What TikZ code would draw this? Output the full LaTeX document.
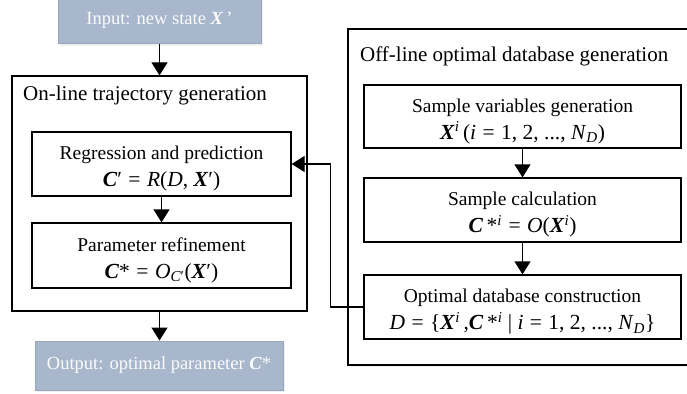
\documentclass[tikz,border=0pt]{standalone}
\usepackage{fontspec}
\setmainfont{Liberation Serif}
\usetikzlibrary{arrows.meta,shadows}
\definecolor{boxblue}{RGB}{168,183,204}
\definecolor{boxblueline}{RGB}{150,166,190}
\newcommand{\bi}[1]{\textbf{\textit{#1}}}
\newcommand{\ii}[1]{\textit{#1}}
\newcommand{\sbs}[1]{\textsubscript{#1}}
\newcommand{\sps}[1]{\textsuperscript{#1}}
\newcommand{\fm}{\fontsize{21.5}{27}\selectfont}
\newcommand{\eq}{\hspace{0.3em}=\hspace{0.3em}}
\begin{document}
\begin{tikzpicture}[x=1pt,y=-1pt,
  every node/.style={font=\fontsize{19.5}{27}\selectfont, inner sep=0pt},
  procbox/.style={draw=black, line width=1.3pt, fill=white},
  proctext/.style={align=center, yshift=-5pt},
  iobox/.style={draw=boxblueline, line width=1pt, fill=boxblue, text=white!95!boxblue,
     font=\fontsize{18.5}{24}\selectfont,
     drop shadow={opacity=0.12, shadow xshift=1.5pt, shadow yshift=-2pt}},
  groupbox/.style={draw=black, line width=1.3pt},
  grouptitle/.style={anchor=base west, font=\fontsize{21}{27}\selectfont},
  arr/.style={line width=1.3pt, -{Triangle[length=13pt,width=16pt]}}
]
\useasboundingbox (0,0) rectangle (687,393);
% input / output
\node[iobox, minimum width=203pt, minimum height=48pt] (input) at (159.5,20) {Input: new state \bi{X}\,’};
\node[iobox, minimum width=248pt, minimum height=49pt] (output) at (159,365.5) {Output: optimal parameter \bi{C}*};
% on-line group
\node[groupbox, minimum width=295pt, minimum height=235pt] (online) at (159.5,193.5) {};
\node[grouptitle] (ontitle) at (23,101) {On-line trajectory generation};
\node[procbox, minimum width=259pt, minimum height=64pt] (reg) at (161.5,164) {};
\node[proctext] (regtxt) at (reg.center)
  {Regression and prediction\\{\fm\bi{C}′\eq\ii{R}(\ii{D}, \bi{X}′)}};
\node[procbox, minimum width=259pt, minimum height=65pt] (par) at (161.5,255.5) {};
\node[proctext] (partxt) at (par.center)
  {Parameter refinement\\{\fm\bi{C}*\eq\ii{O}\sbs{\ii{C}′}(\bi{X}′)}};
% off-line group
\node[groupbox, fill=white, minimum width=345pt, minimum height=336pt,
  drop shadow={opacity=0.12, shadow xshift=1.5pt, shadow yshift=-2pt}] (offline) at (520.5,197) {};
\node[grouptitle] (offtitle) at (360,62) {Off-line optimal database generation};
\node[procbox, minimum width=317pt, minimum height=63pt] (samp) at (522.5,116.5) {};
\node[proctext] (samptxt) at (samp.center)
  {Sample variables generation\\{\fm\bi{X}\sps{\ii{i}}\,(\ii{i}\eq1, 2, ..., \ii{N}\sbs{\ii{D}})}};
\node[procbox, minimum width=317pt, minimum height=64pt] (calc) at (522.5,210) {};
\node[proctext] (calctxt) at (calc.center)
  {Sample calculation\\{\fm\bi{C}\,*\sps{\ii{i}}\eq\ii{O}(\bi{X}\sps{\ii{i}})}};
\node[procbox, minimum width=317pt, minimum height=64pt] (db) at (522.5,307) {};
\node[proctext] (dbtxt) at (db.center)
  {Optimal database construction\\{\fm\ii{D}\eq\{\bi{X}\sps{\ii{i}}\,,\bi{C}\,*\sps{\ii{i}} | \ii{i}\eq1, 2, ..., \ii{N}\sbs{\ii{D}}\}}};
% connectors
\draw[arr] (input.south -| online.north) -- (online.north);
\draw[arr] (reg.south) -- (par.north);
\draw[arr] (online.south) -- (output.north -| online.south);
\draw[arr] (samp.south) -- (calc.north);
\draw[arr] (calc.south) -- (db.north);
\draw[arr] (db.west) -- ++(-33,0) |- (reg.east);
\end{tikzpicture}
\end{document}
